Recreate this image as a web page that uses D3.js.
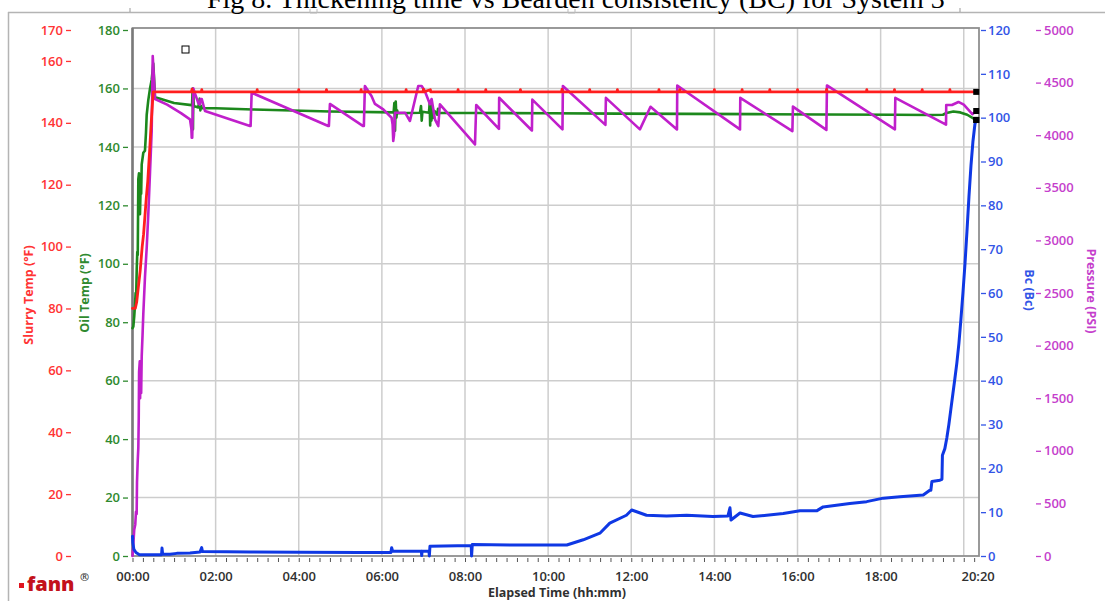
<!DOCTYPE html>
<html>
<head>
<meta charset="utf-8">
<script src="https://cdn.jsdelivr.net/npm/d3@7/dist/d3.min.js"></script>
<style>
  html, body { margin: 0; padding: 0; background: #fff; }
  svg { display: block; }
  .tick text { font-family: "Open Sans", "Noto Sans", sans-serif; }
</style>
</head>
<body>
<svg id="chart" width="1105" height="601"></svg>
<script>
// ---- Data: elapsed time in minutes, readings per channel ----
const slurryTemp = [
  [0, 80], [4, 80], [6, 82], [8, 86], [11, 92], [14, 100], [16, 104], [18, 110], [20, 116],
  [22, 121], [25, 132], [27, 140], [29, 147], [30, 150], [60, 150],
  [85, 150], [86, 150.9], [87, 150], [99.4, 150], [100, 150.7], [100.6, 150],
  [179.4, 150], [180, 150.7], [180.6, 150], [239.4, 150], [240, 150.7], [240.6, 150],
  [279.4, 150], [280, 150.7], [280.6, 150], [329.4, 150], [330, 150.7], [330.6, 150],
  [394.4, 150], [395, 150.7], [395.6, 150], [419.4, 150], [420, 150.9], [420.6, 150], [430, 150.7], [430.6, 150],
  [469.4, 150], [470, 150.7], [470.6, 150], [509.4, 150], [510, 150.7], [510.6, 150],
  [559.4, 150], [560, 150.7], [560.6, 150], [619.4, 150], [620, 150.8], [620.6, 150],
  [659.4, 150], [660, 150.7], [660.6, 150], [699.4, 150], [700, 150.7], [700.6, 150],
  [759.4, 150], [760, 150.7], [760.6, 150], [789.4, 150], [790, 150.7], [790.6, 150],
  [839.4, 150], [840, 150.7], [840.6, 150], [879.4, 150], [880, 150.7], [880.6, 150],
  [919.4, 150], [920, 150.7], [920.6, 150], [959.4, 150], [960, 150.7], [960.6, 150],
  [1001.4, 150], [1002, 150.8], [1002.6, 150], [1059.4, 150], [1060, 150.7], [1060.6, 150],
  [1099.4, 150], [1100, 150.7], [1100.6, 150], [1139.4, 150], [1140, 150.7], [1140.6, 150],
  [1179.4, 150], [1180, 150.7], [1180.6, 150], [1218, 150]
];

const oilTemp = [
  [0, 78], [1.2, 78.5], [2.5, 82], [3.6, 86], [4.5, 90], [5.2, 88], [6.1, 98], [6.9, 104], [7.6, 103],
  [8.4, 129], [9.4, 131], [10, 118], [10.8, 117], [11.8, 127], [12.5, 124], [13.3, 134],
  [15.6, 138], [18, 138.7], [19.5, 145], [20.5, 151], [22.8, 156], [25.3, 160], [27.7, 163],
  [29, 166], [30, 168.5], [31.5, 161.8], [32.5, 157], [40, 156.5], [60, 155], [85, 154.3],
  [86, 154.3], [86.8, 160], [87.3, 146], [87.8, 158], [88.5, 154],
  [95, 153.5], [97, 156.5], [98, 152.5], [99, 154], [100, 153.3],
  [120, 153.2], [174, 152.8], [285, 152.1], [377, 151.8],
  [378, 155], [379, 145.5], [380, 155.5], [381, 150], [382, 152.5], [383, 151.5],
  [415, 151.7], [416.5, 154], [417.5, 149], [418.5, 152], [428, 151.7], [429, 155], [429.7, 147.3],
  [430.5, 154.5], [431.5, 149], [433, 153], [434, 150], [436, 152.3], [440, 151], [441, 153], [442, 151.6],
  [500, 151.6], [600, 151.5], [700, 151.4], [800, 151.3], [900, 151.2], [1000, 151.1], [1100, 151],
  [1150, 150.9], [1170, 151], [1175, 151.6], [1185, 152.1], [1195, 151.8], [1205, 151], [1212, 150], [1218, 149.2]
];

const pressure = [
  [0, 0], [0.5, 50], [1.2, 114], [2.5, 250], [4, 300], [5, 420], [6, 400], [6.5, 700], [7.5, 900],
  [8.4, 1030], [9, 1300], [9.5, 1750], [10.5, 1850], [11, 1500], [11.5, 1800], [12.5, 1550],
  [13.3, 1900], [14.5, 2100], [15.6, 2300], [18, 2650], [20.5, 2930], [22.8, 3250], [25.3, 3650],
  [27.7, 4040], [29.2, 4753], [30.5, 4600], [32.5, 4344], [50, 4290], [70, 4210], [83, 4151],
  [85, 4060], [85.5, 3976], [86.2, 3976], [87.8, 4446], [90, 4400], [95, 4306], [97, 4290],
  [98.5, 4344], [100, 4344], [104.6, 4230], [169.6, 4087], [170.5, 4087], [172, 4404],
  [282.6, 4087], [283.5, 4087], [285, 4297], [333, 4087], [334, 4087], [335.5, 4468],
  [345, 4373], [350, 4297], [362, 4246], [374, 4166], [375.5, 4100], [376.4, 3945], [377.5, 4000],
  [379, 4214], [393.5, 4214], [400.5, 4135], [412.5, 4468], [417.4, 4468], [422, 4420],
  [429.4, 4294], [431.8, 4344], [436.6, 4151], [441.4, 4087], [443.8, 4294],
  [494.4, 3912], [496.2, 4287], [529, 4060], [529.3, 4356], [576.6, 4045], [577.2, 4338],
  [620.7, 4055], [621.3, 4468], [682.7, 4098], [683.4, 4355], [732.5, 4055], [747.8, 4270],
  [786, 4055], [786.4, 4473], [877, 4055], [877.4, 4355], [952.6, 4039], [953.4, 4272],
  [1001.7, 4050], [1002.5, 4473], [1100.6, 4055], [1101.2, 4355], [1174.4, 4100], [1174.7, 4287],
  [1182.9, 4287], [1192.3, 4316], [1200, 4290], [1212.4, 4200], [1218, 4230]
];

const consistency = [
  [0, 4.5], [0.5, 3], [2, 1.5], [5, 0.8], [10, 0.3], [37, 0.3], [42, 0.3], [42.6, 1.8], [43.5, 0.4],
  [54, 0.4], [64, 0.6], [83, 0.7], [97.4, 0.9], [99.9, 1.9], [101, 1.0], [170, 0.9], [242, 0.85],
  [328, 0.8], [373, 0.8], [374.1, 1.9], [375.5, 1.1], [417, 1.1], [417.5, 0.1], [418, 1.1],
  [428, 1.1], [428.5, 0], [429.4, 2.2], [489, 2.4], [489.5, 0], [490.5, 2.6], [560, 2.5], [627, 2.5],
  [650.7, 3.7], [674.7, 5.2], [689, 7.5], [713, 9.3], [720.6, 10.5], [727.8, 10.1], [742, 9.3],
  [771, 9.1], [800, 9.3], [838, 9.0], [859.5, 9.1], [862.5, 11], [864, 8.2], [877, 9.8],
  [895.7, 9.0], [915.4, 9.3], [939.4, 9.7], [963.5, 10.3], [987.6, 10.3], [997, 11.2],
  [1035.5, 12.0], [1059.8, 12.4], [1083.8, 13.2], [1107.8, 13.5], [1141.5, 13.9], [1151, 15.0],
  [1152.5, 15.0], [1154, 17], [1165.6, 17.3], [1168.5, 17.5], [1169.2, 23], [1172.7, 24.5],
  [1175.6, 27], [1178.5, 30], [1181.4, 33.5], [1184.3, 37], [1187.2, 40.5], [1190, 44],
  [1193, 48.5], [1195.9, 54], [1198.8, 60], [1201.7, 66.5], [1204.6, 74], [1207.5, 82],
  [1210.4, 89], [1213.2, 94.5], [1216.1, 98.5], [1218, 99.5]
];

// ---- Tick values and labels ----
const timeTicks = [0, 120, 240, 360, 480, 600, 720, 840, 960, 1080, 1220];
const timeTickLabels = ["00:00", "02:00", "04:00", "06:00", "08:00", "10:00", "12:00", "14:00", "16:00", "18:00", "20:20"];
const gridTimes = [120, 240, 360, 480, 600, 720, 840, 960, 1080, 1200];
const slurryTicks = [0, 20, 40, 60, 80, 100, 120, 140, 160, 170];
const oilTicks = [0, 20, 40, 60, 80, 100, 120, 140, 160, 180];
const bcTicks = [0, 10, 20, 30, 40, 50, 60, 70, 80, 90, 100, 110, 120];
const pressureTicks = [0, 500, 1000, 1500, 2000, 2500, 3000, 3500, 4000, 4500, 5000];

const chartTitle = "Fig 8. Thickening time vs Bearden consistency (BC) for System 3";

// ---- Layout ----
const plot = { left: 132.5, right: 979, top: 30, bottom: 556 };
const colors = {
  slurry: "#ff1e1e", slurryText: "#ff3434",
  oil: "#1c881c", oilText: "#2f8a2f",
  bc: "#0f38e4", bcText: "#3355e6",
  pressure: "#c01fcb", pressureText: "#c53fcc",
  grid: "#cdcdcd", frame: "#8f8f8f"
};
const font = '"Open Sans", "Noto Sans", sans-serif';

const svg = d3.select("#chart");

const x = d3.scaleLinear().domain([0, 1222]).range([plot.left, plot.right]);
const ySlurry = d3.scaleLinear().domain([0, 170]).range([plot.bottom, plot.top]);
const yOil = d3.scaleLinear().domain([0, 180]).range([plot.bottom, plot.top]);
const yBc = d3.scaleLinear().domain([0, 120]).range([plot.bottom, plot.top]);
const yP = d3.scaleLinear().domain([0, 5000]).range([plot.bottom, plot.top]);

// Page frame of the figure
svg.append("line").attr("x1", 8).attr("x2", 1105).attr("y1", 12.5).attr("y2", 12.5)
  .attr("stroke", "#b4b4b4").attr("stroke-width", 1.5);
svg.append("line").attr("x1", 8.5).attr("x2", 8.5).attr("y1", 12).attr("y2", 601)
  .attr("stroke", "#b4b4b4").attr("stroke-width", 1.5);
[130, 960].forEach(px => svg.append("line").attr("x1", px).attr("x2", px).attr("y1", 8).attr("y2", 12)
  .attr("stroke", "#999").attr("stroke-width", 1));
[[310, 317], [568, 575]].forEach(([a, b]) => {
  svg.append("path").attr("d", `M${a},9V13H${b}V9`).attr("fill", "none")
    .attr("stroke", "#bbb").attr("stroke-width", 1);
});

// Title (its upper half runs past the top edge of the page)
const title = svg.append("text").attr("x", 207).attr("y", 8)
  .attr("font-family", '"Liberation Serif", "Times New Roman", serif')
  .attr("font-size", 24).attr("fill", "#000").text(chartTitle);
const tw = title.node().getComputedTextLength();
title.attr("font-size", 24 * 738 / tw);

// Grid
const grid = svg.append("g");
grid.selectAll("line.h").data(oilTicks.filter(v => v > 0 && v < 180)).join("line")
  .attr("x1", plot.left).attr("x2", plot.right)
  .attr("y1", d => yOil(d)).attr("y2", d => yOil(d))
  .attr("stroke", colors.grid).attr("stroke-width", 1.5);
grid.selectAll("line.v").data(gridTimes).join("line")
  .attr("y1", 28).attr("y2", plot.bottom)
  .attr("x1", d => x(d)).attr("x2", d => x(d))
  .attr("stroke", colors.grid).attr("stroke-width", 1.5);

// Plot frame
svg.append("rect").attr("x", plot.left).attr("y", 28)
  .attr("width", plot.right - plot.left).attr("height", plot.bottom - 28)
  .attr("fill", "none").attr("stroke", colors.frame).attr("stroke-width", 1.8);
svg.append("line").attr("x1", plot.left).attr("x2", plot.left).attr("y1", 28).attr("y2", plot.bottom)
  .attr("stroke", "#7a7a7a").attr("stroke-width", 2.5);

// Axis helper styling
function styleAxis(g, color) {
  g.select(".domain").remove();
  g.selectAll(".tick line").attr("stroke", color).attr("stroke-width", 1.3);
  g.selectAll(".tick text").attr("fill", color)
    .attr("font-size", 13).attr("font-weight", 600).attr("font-family", font);
}

// Left axes
svg.append("g").attr("transform", "translate(71,0)")
  .call(d3.axisLeft(ySlurry).tickValues(slurryTicks).tickSize(5).tickPadding(3))
  .call(g => styleAxis(g, colors.slurryText));
svg.append("g").attr("transform", "translate(128,0)")
  .call(d3.axisLeft(yOil).tickValues(oilTicks).tickSize(5).tickPadding(3))
  .call(g => styleAxis(g, colors.oilText));

// Right axes
svg.append("g").attr("transform", "translate(981,0)")
  .call(d3.axisRight(yBc).tickValues(bcTicks).tickSize(5).tickPadding(2))
  .call(g => styleAxis(g, colors.bcText));
svg.append("g").attr("transform", "translate(1036,0)")
  .call(d3.axisRight(yP).tickValues(pressureTicks).tickSize(5).tickPadding(3).tickFormat(d3.format("d")))
  .call(g => styleAxis(g, colors.pressureText));

// Time axis: 15-minute minor ticks and hh:mm labels
svg.append("g").attr("transform", `translate(0,${plot.bottom + 2})`)
  .call(d3.axisBottom(x).tickValues(d3.range(0, 1221, 15)).tickSize(4).tickFormat(""))
  .call(g => { g.select(".domain").remove(); g.selectAll(".tick line").attr("stroke", "#555"); });
svg.append("g").attr("transform", `translate(0,${plot.bottom})`)
  .call(d3.axisBottom(x).tickValues(timeTicks).tickSize(0).tickPadding(16)
    .tickFormat((d, i) => timeTickLabels[i]))
  .call(g => styleAxis(g, "#303030"));

// Axis titles
function axisTitle(text, cx, cy, angle, color) {
  svg.append("text").attr("transform", `translate(${cx},${cy}) rotate(${angle})`)
    .attr("text-anchor", "middle").attr("dominant-baseline", "central")
    .attr("font-family", font).attr("font-weight", 700).attr("font-size", 12.5)
    .attr("fill", color).text(text);
}
axisTitle("Slurry Temp (°F)", 28, 295, -90, colors.slurryText);
axisTitle("Oil Temp (°F)", 84, 293, -90, colors.oilText);
axisTitle("Bc (Bc)", 1029, 290, 90, colors.bcText);
axisTitle("Pressure (PSI)", 1091, 291, 90, colors.pressureText);

svg.append("text").attr("x", 557).attr("y", 597).attr("text-anchor", "middle")
  .attr("font-family", font).attr("font-weight", 700).attr("font-size", 12.5)
  .attr("fill", "#303030").text("Elapsed Time (hh:mm)");

// Series
const plotArea = svg.append("g");
function drawSeries(data, yScale, color, width) {
  plotArea.append("path").datum(data)
    .attr("fill", "none").attr("stroke", color).attr("stroke-width", width)
    .attr("stroke-linejoin", "round").attr("stroke-linecap", "round")
    .attr("d", d3.line().x(d => x(d[0])).y(d => yScale(d[1])));
}
drawSeries(oilTemp, yOil, colors.oil, 2.6);
drawSeries(pressure, yP, colors.pressure, 2.6);
drawSeries(consistency, yBc, colors.bc, 3);
drawSeries(slurryTemp, ySlurry, colors.slurry, 2.8);

// End-of-run markers
[[slurryTemp, ySlurry], [pressure, yP], [oilTemp, yOil], [consistency, yBc]].forEach(([data, ys]) => {
  const last = data[data.length - 1];
  plotArea.append("rect").attr("x", x(last[0]) - 3).attr("y", ys(last[1]) - 3)
    .attr("width", 6).attr("height", 6).attr("fill", "#000");
});

// Cursor box
svg.append("rect").attr("x", 182).attr("y", 46).attr("width", 7).attr("height", 7)
  .attr("fill", "#fff").attr("stroke", "#000").attr("stroke-width", 1);

// Brand mark
svg.append("rect").attr("x", 19).attr("y", 583).attr("width", 5).attr("height", 5).attr("fill", "#e0141e");
svg.append("text").attr("x", 27).attr("y", 591)
  .attr("font-family", font).attr("font-weight", 800).attr("font-size", 20)
  .attr("fill", "#c3111b").text("fann");
svg.append("text").attr("x", 80).attr("y", 581)
  .attr("font-family", font).attr("font-weight", 600).attr("font-size", 11)
  .attr("fill", "#333").text("®");
</script>
</body>
</html>
